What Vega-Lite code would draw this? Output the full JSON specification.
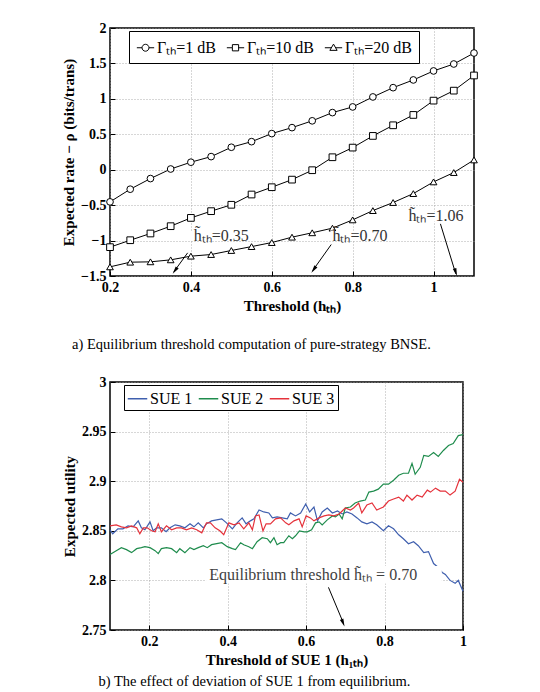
{
 "$schema": "https://vega.github.io/schema/vega-lite/v6.json",
 "padding": {"left": 60, "top": 20, "right": 5, "bottom": 0},
 "background": "white",
 "columns": 1,
 "align": "none",
 "spacing": 21,
 "config": {
  "font": "Liberation Serif",
  "view": {"stroke": "black", "strokeWidth": 1.5},
  "axis": {
   "grid": true, "gridDash": [1, 2], "gridColor": "#9a9a9a", "gridWidth": 0.8,
   "domain": false, "ticks": true, "tickSize": -5, "tickColor": "black", "labelPadding": 9,
   "labelFont": "Liberation Serif", "labelFontSize": 14, "labelFontWeight": "bold", "labelColor": "black",
   "titleFont": "Liberation Serif", "titleFontSize": 15, "titleFontWeight": "bold", "titleColor": "black",
   "labelFlush": false, "labelOverlap": false
  },
  "axisY": {"labelOverlap": false},
  "legend": {
   "orient": "none", "direction": "horizontal", "strokeColor": "black", "fillColor": "white",
   "labelFont": "Liberation Serif", "labelFontSize": 16, "labelColor": "black", "padding": 5, "cornerRadius": 0
  }
 },
 "datasets": {
  "top": [
   {"h":0.2,"v":-0.454,"s":"Γₜₕ=1 dB"},{"h":0.25,"v":-0.275,"s":"Γₜₕ=1 dB"},{"h":0.3,"v":-0.125,"s":"Γₜₕ=1 dB"},{"h":0.35,"v":0.01,"s":"Γₜₕ=1 dB"},{"h":0.4,"v":0.106,"s":"Γₜₕ=1 dB"},{"h":0.45,"v":0.185,"s":"Γₜₕ=1 dB"},{"h":0.5,"v":0.317,"s":"Γₜₕ=1 dB"},{"h":0.55,"v":0.396,"s":"Γₜₕ=1 dB"},{"h":0.6,"v":0.51,"s":"Γₜₕ=1 dB"},{"h":0.65,"v":0.594,"s":"Γₜₕ=1 dB"},{"h":0.7,"v":0.69,"s":"Γₜₕ=1 dB"},{"h":0.75,"v":0.806,"s":"Γₜₕ=1 dB"},{"h":0.8,"v":0.886,"s":"Γₜₕ=1 dB"},{"h":0.85,"v":1.027,"s":"Γₜₕ=1 dB"},{"h":0.9,"v":1.158,"s":"Γₜₕ=1 dB"},{"h":0.95,"v":1.267,"s":"Γₜₕ=1 dB"},{"h":1.0,"v":1.394,"s":"Γₜₕ=1 dB"},{"h":1.05,"v":1.492,"s":"Γₜₕ=1 dB"},{"h":1.1,"v":1.647,"s":"Γₜₕ=1 dB"},
   {"h":0.2,"v":-1.093,"s":"Γₜₕ=10 dB"},{"h":0.25,"v":-0.995,"s":"Γₜₕ=10 dB"},{"h":0.3,"v":-0.9,"s":"Γₜₕ=10 dB"},{"h":0.35,"v":-0.797,"s":"Γₜₕ=10 dB"},{"h":0.4,"v":-0.68,"s":"Γₜₕ=10 dB"},{"h":0.45,"v":-0.585,"s":"Γₜₕ=10 dB"},{"h":0.5,"v":-0.495,"s":"Γₜₕ=10 dB"},{"h":0.55,"v":-0.35,"s":"Γₜₕ=10 dB"},{"h":0.6,"v":-0.247,"s":"Γₜₕ=10 dB"},{"h":0.65,"v":-0.14,"s":"Γₜₕ=10 dB"},{"h":0.7,"v":-0.007,"s":"Γₜₕ=10 dB"},{"h":0.75,"v":0.176,"s":"Γₜₕ=10 dB"},{"h":0.8,"v":0.312,"s":"Γₜₕ=10 dB"},{"h":0.85,"v":0.477,"s":"Γₜₕ=10 dB"},{"h":0.9,"v":0.627,"s":"Γₜₕ=10 dB"},{"h":0.95,"v":0.773,"s":"Γₜₕ=10 dB"},{"h":1.0,"v":0.975,"s":"Γₜₕ=10 dB"},{"h":1.05,"v":1.116,"s":"Γₜₕ=10 dB"},{"h":1.1,"v":1.33,"s":"Γₜₕ=10 dB"},
   {"h":0.2,"v":-1.371,"s":"Γₜₕ=20 dB"},{"h":0.25,"v":-1.305,"s":"Γₜₕ=20 dB"},{"h":0.3,"v":-1.3,"s":"Γₜₕ=20 dB"},{"h":0.35,"v":-1.272,"s":"Γₜₕ=20 dB"},{"h":0.4,"v":-1.22,"s":"Γₜₕ=20 dB"},{"h":0.45,"v":-1.197,"s":"Γₜₕ=20 dB"},{"h":0.5,"v":-1.14,"s":"Γₜₕ=20 dB"},{"h":0.55,"v":-1.085,"s":"Γₜₕ=20 dB"},{"h":0.6,"v":-1.028,"s":"Γₜₕ=20 dB"},{"h":0.65,"v":-0.952,"s":"Γₜₕ=20 dB"},{"h":0.7,"v":-0.89,"s":"Γₜₕ=20 dB"},{"h":0.75,"v":-0.825,"s":"Γₜₕ=20 dB"},{"h":0.8,"v":-0.708,"s":"Γₜₕ=20 dB"},{"h":0.85,"v":-0.577,"s":"Γₜₕ=20 dB"},{"h":0.9,"v":-0.463,"s":"Γₜₕ=20 dB"},{"h":0.95,"v":-0.337,"s":"Γₜₕ=20 dB"},{"h":1.0,"v":-0.172,"s":"Γₜₕ=20 dB"},{"h":1.05,"v":-0.04,"s":"Γₜₕ=20 dB"},{"h":1.1,"v":0.138,"s":"Γₜₕ=20 dB"}
  ],
  "bottom": [
   {"h":0.100,"u":2.851,"s":"SUE 1"},{"h":0.107,"u":2.847,"s":"SUE 1"},{"h":0.120,"u":2.852,"s":"SUE 1"},{"h":0.133,"u":2.852,"s":"SUE 1"},{"h":0.146,"u":2.855,"s":"SUE 1"},{"h":0.159,"u":2.854,"s":"SUE 1"},{"h":0.172,"u":2.860,"s":"SUE 1"},{"h":0.180,"u":2.853,"s":"SUE 1"},{"h":0.189,"u":2.851,"s":"SUE 1"},{"h":0.202,"u":2.859,"s":"SUE 1"},{"h":0.210,"u":2.850,"s":"SUE 1"},{"h":0.219,"u":2.853,"s":"SUE 1"},{"h":0.231,"u":2.853,"s":"SUE 1"},{"h":0.243,"u":2.849,"s":"SUE 1"},{"h":0.253,"u":2.853,"s":"SUE 1"},{"h":0.266,"u":2.856,"s":"SUE 1"},{"h":0.278,"u":2.855,"s":"SUE 1"},{"h":0.291,"u":2.853,"s":"SUE 1"},{"h":0.304,"u":2.857,"s":"SUE 1"},{"h":0.314,"u":2.854,"s":"SUE 1"},{"h":0.325,"u":2.858,"s":"SUE 1"},{"h":0.338,"u":2.853,"s":"SUE 1"},{"h":0.346,"u":2.857,"s":"SUE 1"},{"h":0.359,"u":2.860,"s":"SUE 1"},{"h":0.372,"u":2.861,"s":"SUE 1"},{"h":0.385,"u":2.862,"s":"SUE 1"},{"h":0.397,"u":2.858,"s":"SUE 1"},{"h":0.412,"u":2.852,"s":"SUE 1"},{"h":0.424,"u":2.858,"s":"SUE 1"},{"h":0.437,"u":2.863,"s":"SUE 1"},{"h":0.447,"u":2.857,"s":"SUE 1"},{"h":0.458,"u":2.860,"s":"SUE 1"},{"h":0.467,"u":2.862,"s":"SUE 1"},{"h":0.480,"u":2.871,"s":"SUE 1"},{"h":0.492,"u":2.869,"s":"SUE 1"},{"h":0.505,"u":2.868,"s":"SUE 1"},{"h":0.514,"u":2.863,"s":"SUE 1"},{"h":0.526,"u":2.864,"s":"SUE 1"},{"h":0.539,"u":2.863,"s":"SUE 1"},{"h":0.552,"u":2.862,"s":"SUE 1"},{"h":0.560,"u":2.868,"s":"SUE 1"},{"h":0.573,"u":2.865,"s":"SUE 1"},{"h":0.586,"u":2.868,"s":"SUE 1"},{"h":0.599,"u":2.877,"s":"SUE 1"},{"h":0.609,"u":2.869,"s":"SUE 1"},{"h":0.620,"u":2.874,"s":"SUE 1"},{"h":0.629,"u":2.860,"s":"SUE 1"},{"h":0.641,"u":2.869,"s":"SUE 1"},{"h":0.654,"u":2.873,"s":"SUE 1"},{"h":0.667,"u":2.868,"s":"SUE 1"},{"h":0.680,"u":2.870,"s":"SUE 1"},{"h":0.692,"u":2.867,"s":"SUE 1"},{"h":0.704,"u":2.869,"s":"SUE 1"},{"h":0.717,"u":2.867,"s":"SUE 1"},{"h":0.730,"u":2.863,"s":"SUE 1"},{"h":0.742,"u":2.859,"s":"SUE 1"},{"h":0.755,"u":2.857,"s":"SUE 1"},{"h":0.768,"u":2.859,"s":"SUE 1"},{"h":0.780,"u":2.856,"s":"SUE 1"},{"h":0.797,"u":2.850,"s":"SUE 1"},{"h":0.810,"u":2.855,"s":"SUE 1"},{"h":0.823,"u":2.852,"s":"SUE 1"},{"h":0.836,"u":2.846,"s":"SUE 1"},{"h":0.848,"u":2.842,"s":"SUE 1"},{"h":0.861,"u":2.837,"s":"SUE 1"},{"h":0.874,"u":2.839,"s":"SUE 1"},{"h":0.886,"u":2.835,"s":"SUE 1"},{"h":0.900,"u":2.828,"s":"SUE 1"},{"h":0.912,"u":2.829,"s":"SUE 1"},{"h":0.925,"u":2.817,"s":"SUE 1"},{"h":0.937,"u":2.813,"s":"SUE 1"},{"h":0.947,"u":2.808,"s":"SUE 1"},{"h":0.955,"u":2.806,"s":"SUE 1"},{"h":0.967,"u":2.800,"s":"SUE 1"},{"h":0.980,"u":2.797,"s":"SUE 1"},{"h":0.988,"u":2.800,"s":"SUE 1"},{"h":1.000,"u":2.789,"s":"SUE 1"},
   {"h":0.100,"u":2.826,"s":"SUE 2"},{"h":0.116,"u":2.830,"s":"SUE 2"},{"h":0.129,"u":2.833,"s":"SUE 2"},{"h":0.142,"u":2.831,"s":"SUE 2"},{"h":0.155,"u":2.828,"s":"SUE 2"},{"h":0.168,"u":2.832,"s":"SUE 2"},{"h":0.180,"u":2.833,"s":"SUE 2"},{"h":0.189,"u":2.834,"s":"SUE 2"},{"h":0.202,"u":2.833,"s":"SUE 2"},{"h":0.215,"u":2.830,"s":"SUE 2"},{"h":0.223,"u":2.827,"s":"SUE 2"},{"h":0.231,"u":2.832,"s":"SUE 2"},{"h":0.244,"u":2.833,"s":"SUE 2"},{"h":0.257,"u":2.832,"s":"SUE 2"},{"h":0.270,"u":2.828,"s":"SUE 2"},{"h":0.278,"u":2.832,"s":"SUE 2"},{"h":0.291,"u":2.828,"s":"SUE 2"},{"h":0.304,"u":2.833,"s":"SUE 2"},{"h":0.314,"u":2.831,"s":"SUE 2"},{"h":0.325,"u":2.833,"s":"SUE 2"},{"h":0.338,"u":2.835,"s":"SUE 2"},{"h":0.348,"u":2.833,"s":"SUE 2"},{"h":0.359,"u":2.836,"s":"SUE 2"},{"h":0.372,"u":2.837,"s":"SUE 2"},{"h":0.385,"u":2.838,"s":"SUE 2"},{"h":0.399,"u":2.834,"s":"SUE 2"},{"h":0.412,"u":2.832,"s":"SUE 2"},{"h":0.420,"u":2.831,"s":"SUE 2"},{"h":0.433,"u":2.838,"s":"SUE 2"},{"h":0.441,"u":2.836,"s":"SUE 2"},{"h":0.454,"u":2.834,"s":"SUE 2"},{"h":0.463,"u":2.832,"s":"SUE 2"},{"h":0.475,"u":2.839,"s":"SUE 2"},{"h":0.488,"u":2.843,"s":"SUE 2"},{"h":0.501,"u":2.842,"s":"SUE 2"},{"h":0.509,"u":2.838,"s":"SUE 2"},{"h":0.518,"u":2.843,"s":"SUE 2"},{"h":0.526,"u":2.836,"s":"SUE 2"},{"h":0.535,"u":2.838,"s":"SUE 2"},{"h":0.543,"u":2.838,"s":"SUE 2"},{"h":0.556,"u":2.845,"s":"SUE 2"},{"h":0.565,"u":2.842,"s":"SUE 2"},{"h":0.573,"u":2.845,"s":"SUE 2"},{"h":0.583,"u":2.850,"s":"SUE 2"},{"h":0.595,"u":2.849,"s":"SUE 2"},{"h":0.603,"u":2.849,"s":"SUE 2"},{"h":0.614,"u":2.851,"s":"SUE 2"},{"h":0.624,"u":2.858,"s":"SUE 2"},{"h":0.633,"u":2.859,"s":"SUE 2"},{"h":0.641,"u":2.856,"s":"SUE 2"},{"h":0.654,"u":2.861,"s":"SUE 2"},{"h":0.667,"u":2.865,"s":"SUE 2"},{"h":0.675,"u":2.864,"s":"SUE 2"},{"h":0.684,"u":2.867,"s":"SUE 2"},{"h":0.692,"u":2.862,"s":"SUE 2"},{"h":0.700,"u":2.873,"s":"SUE 2"},{"h":0.713,"u":2.874,"s":"SUE 2"},{"h":0.725,"u":2.878,"s":"SUE 2"},{"h":0.738,"u":2.880,"s":"SUE 2"},{"h":0.751,"u":2.881,"s":"SUE 2"},{"h":0.760,"u":2.889,"s":"SUE 2"},{"h":0.772,"u":2.890,"s":"SUE 2"},{"h":0.784,"u":2.892,"s":"SUE 2"},{"h":0.797,"u":2.897,"s":"SUE 2"},{"h":0.810,"u":2.897,"s":"SUE 2"},{"h":0.823,"u":2.901,"s":"SUE 2"},{"h":0.836,"u":2.906,"s":"SUE 2"},{"h":0.848,"u":2.908,"s":"SUE 2"},{"h":0.861,"u":2.908,"s":"SUE 2"},{"h":0.870,"u":2.918,"s":"SUE 2"},{"h":0.878,"u":2.907,"s":"SUE 2"},{"h":0.891,"u":2.914,"s":"SUE 2"},{"h":0.900,"u":2.926,"s":"SUE 2"},{"h":0.912,"u":2.925,"s":"SUE 2"},{"h":0.925,"u":2.929,"s":"SUE 2"},{"h":0.937,"u":2.925,"s":"SUE 2"},{"h":0.950,"u":2.931,"s":"SUE 2"},{"h":0.963,"u":2.936,"s":"SUE 2"},{"h":0.975,"u":2.938,"s":"SUE 2"},{"h":0.988,"u":2.946,"s":"SUE 2"},{"h":1.000,"u":2.947,"s":"SUE 2"},
   {"h":0.100,"u":2.855,"s":"SUE 3"},{"h":0.116,"u":2.856,"s":"SUE 3"},{"h":0.129,"u":2.854,"s":"SUE 3"},{"h":0.142,"u":2.853,"s":"SUE 3"},{"h":0.155,"u":2.855,"s":"SUE 3"},{"h":0.168,"u":2.853,"s":"SUE 3"},{"h":0.176,"u":2.847,"s":"SUE 3"},{"h":0.185,"u":2.853,"s":"SUE 3"},{"h":0.195,"u":2.853,"s":"SUE 3"},{"h":0.206,"u":2.850,"s":"SUE 3"},{"h":0.215,"u":2.849,"s":"SUE 3"},{"h":0.223,"u":2.857,"s":"SUE 3"},{"h":0.231,"u":2.849,"s":"SUE 3"},{"h":0.244,"u":2.855,"s":"SUE 3"},{"h":0.257,"u":2.851,"s":"SUE 3"},{"h":0.270,"u":2.853,"s":"SUE 3"},{"h":0.282,"u":2.853,"s":"SUE 3"},{"h":0.295,"u":2.851,"s":"SUE 3"},{"h":0.308,"u":2.853,"s":"SUE 3"},{"h":0.321,"u":2.851,"s":"SUE 3"},{"h":0.334,"u":2.848,"s":"SUE 3"},{"h":0.346,"u":2.858,"s":"SUE 3"},{"h":0.356,"u":2.858,"s":"SUE 3"},{"h":0.368,"u":2.853,"s":"SUE 3"},{"h":0.380,"u":2.850,"s":"SUE 3"},{"h":0.390,"u":2.846,"s":"SUE 3"},{"h":0.403,"u":2.858,"s":"SUE 3"},{"h":0.416,"u":2.856,"s":"SUE 3"},{"h":0.429,"u":2.858,"s":"SUE 3"},{"h":0.441,"u":2.852,"s":"SUE 3"},{"h":0.454,"u":2.858,"s":"SUE 3"},{"h":0.463,"u":2.851,"s":"SUE 3"},{"h":0.471,"u":2.865,"s":"SUE 3"},{"h":0.480,"u":2.866,"s":"SUE 3"},{"h":0.490,"u":2.850,"s":"SUE 3"},{"h":0.498,"u":2.857,"s":"SUE 3"},{"h":0.509,"u":2.857,"s":"SUE 3"},{"h":0.522,"u":2.862,"s":"SUE 3"},{"h":0.535,"u":2.863,"s":"SUE 3"},{"h":0.548,"u":2.858,"s":"SUE 3"},{"h":0.556,"u":2.856,"s":"SUE 3"},{"h":0.569,"u":2.860,"s":"SUE 3"},{"h":0.582,"u":2.862,"s":"SUE 3"},{"h":0.590,"u":2.854,"s":"SUE 3"},{"h":0.600,"u":2.865,"s":"SUE 3"},{"h":0.611,"u":2.863,"s":"SUE 3"},{"h":0.620,"u":2.860,"s":"SUE 3"},{"h":0.633,"u":2.863,"s":"SUE 3"},{"h":0.646,"u":2.865,"s":"SUE 3"},{"h":0.658,"u":2.866,"s":"SUE 3"},{"h":0.671,"u":2.865,"s":"SUE 3"},{"h":0.684,"u":2.867,"s":"SUE 3"},{"h":0.692,"u":2.870,"s":"SUE 3"},{"h":0.700,"u":2.873,"s":"SUE 3"},{"h":0.713,"u":2.871,"s":"SUE 3"},{"h":0.721,"u":2.873,"s":"SUE 3"},{"h":0.734,"u":2.878,"s":"SUE 3"},{"h":0.742,"u":2.868,"s":"SUE 3"},{"h":0.755,"u":2.876,"s":"SUE 3"},{"h":0.768,"u":2.878,"s":"SUE 3"},{"h":0.780,"u":2.871,"s":"SUE 3"},{"h":0.797,"u":2.874,"s":"SUE 3"},{"h":0.810,"u":2.880,"s":"SUE 3"},{"h":0.823,"u":2.882,"s":"SUE 3"},{"h":0.836,"u":2.884,"s":"SUE 3"},{"h":0.848,"u":2.880,"s":"SUE 3"},{"h":0.857,"u":2.886,"s":"SUE 3"},{"h":0.870,"u":2.881,"s":"SUE 3"},{"h":0.883,"u":2.886,"s":"SUE 3"},{"h":0.896,"u":2.884,"s":"SUE 3"},{"h":0.909,"u":2.891,"s":"SUE 3"},{"h":0.917,"u":2.889,"s":"SUE 3"},{"h":0.930,"u":2.893,"s":"SUE 3"},{"h":0.942,"u":2.890,"s":"SUE 3"},{"h":0.955,"u":2.890,"s":"SUE 3"},{"h":0.967,"u":2.886,"s":"SUE 3"},{"h":0.980,"u":2.890,"s":"SUE 3"},{"h":0.991,"u":2.902,"s":"SUE 3"},{"h":1.000,"u":2.899,"s":"SUE 3"}
  ]
 },
 "concat": [
  {
   "width": 364, "height": 248,
   "title": {"text": "a) Equilibrium threshold computation of pure-strategy BNSE.", "orient": "bottom", "anchor": "middle", "frame": "bounds", "font": "Liberation Serif", "fontSize": 14.5, "fontWeight": "normal", "color": "black", "offset": 25, "dx": -19},
   "resolve": {"scale": {"shape": "independent"}},
   "layer": [
    {
     "data": {"name": "top"},
     "mark": {"type": "line", "color": "black", "strokeWidth": 1},
     "encoding": {
      "x": {"field": "h", "type": "quantitative", "scale": {"domain": [0.2, 1.1], "nice": false}, "axis": {"title": "Threshold (hₜₕ)", "values": [0.2, 0.4, 0.6, 0.8, 1], "format": "~g", "labelOverlap": false}},
      "y": {"field": "v", "type": "quantitative", "scale": {"domain": [-1.5, 2], "nice": false}, "axis": {"title": "Expected rate − ρ (bits/trans)", "tickCount": 8, "format": "~g", "labelOverlap": false}},
      "detail": {"field": "s"}
     }
    },
    {
     "data": {"name": "top"},
     "mark": {"type": "point", "filled": true, "fill": "white", "stroke": "black", "strokeWidth": 1, "size": 45, "opacity": 1},
     "encoding": {
      "x": {"field": "h", "type": "quantitative"},
      "y": {"field": "v", "type": "quantitative"},
      "shape": {"field": "s", "type": "nominal", "scale": {"domain": ["Γₜₕ=1 dB", "Γₜₕ=10 dB", "Γₜₕ=20 dB"], "range": ["circle", "square", "triangle-up"]}, "legend": null}
     }
    },
    {
     "data": {"name": "top"},
     "transform": [{"filter": "datum.h > 5"}],
     "mark": {"type": "point", "filled": false, "color": "black", "strokeWidth": 1, "opacity": 1},
     "encoding": {
      "x": {"field": "h", "type": "quantitative"},
      "y": {"field": "v", "type": "quantitative"},
      "shape": {"field": "s", "type": "nominal",
       "scale": {"domain": ["Γₜₕ=1 dB", "Γₜₕ=10 dB", "Γₜₕ=20 dB"], "range": [
        "M-1,0L-0.4,0M0.4,0A0.4,0.4,0,1,1,-0.4,0A0.4,0.4,0,1,1,0.4,0L1,0",
        "M-1,0L-0.36,0L-0.36,-0.36L0.36,-0.36L0.36,0.36L-0.36,0.36L-0.36,0M0.36,0L1,0",
        "M-1,0L-0.24,0M0,-0.42L0.42,0.3L-0.42,0.3L0,-0.42M0.24,0L1,0"]},
       "legend": {"title": null, "legendX": 19, "legendY": 3, "symbolSize": 300, "symbolStrokeColor": "black", "symbolStrokeWidth": 1, "symbolOpacity": 1, "labelOffset": 2, "columnPadding": 8, "padding": 7,
        "encode": {"symbols": {"update": {"stroke": {"value": "black"}, "strokeWidth": {"value": 1}, "fill": {"value": "white"}}}}}
      }
     }
    },
    {
     "data": {"values": [
      {"h": 0.4, "h2": 0.565, "v": -1.0, "v2": -0.865},
      {"h": 0.745, "h2": 0.905, "v": -1.0, "v2": -0.865},
      {"h": 0.932, "h2": 1.095, "v": -0.73, "v2": -0.595}
     ]},
     "mark": {"type": "rect", "fill": "white"},
     "encoding": {
      "x": {"field": "h", "type": "quantitative"}, "x2": {"field": "h2"},
      "y": {"field": "v", "type": "quantitative"}, "y2": {"field": "v2"}
     }
    },
    {
     "data": {"values": [
      {"h": 0.407, "v": -0.93, "t": "h̃ₜₕ=0.35"},
      {"h": 0.75, "v": -0.93, "t": "h̃ₜₕ=0.70"},
      {"h": 0.938, "v": -0.66, "t": "h̃ₜₕ=1.06"}
     ]},
     "mark": {"type": "text", "align": "left", "baseline": "middle", "font": "Liberation Serif", "fontSize": 16, "color": "#333333"},
     "encoding": {
      "x": {"field": "h", "type": "quantitative"},
      "y": {"field": "v", "type": "quantitative"},
      "text": {"field": "t"}
     }
    },
    {
     "data": {"values": [
      {"h": 0.392, "v": -1.173, "h2": 0.358, "v2": -1.44},
      {"h": 0.747, "v": -1.056, "h2": 0.701, "v2": -1.425},
      {"h": 1.017, "v": -0.764, "h2": 1.055, "v2": -1.47}
     ]},
     "mark": {"type": "rule", "color": "black", "strokeWidth": 1},
     "encoding": {
      "x": {"field": "h", "type": "quantitative"}, "x2": {"field": "h2"},
      "y": {"field": "v", "type": "quantitative"}, "y2": {"field": "v2"}
     }
    },
    {
     "data": {"values": [{"h": 0.355, "v": -1.47}, {"h": 0.698, "v": -1.455}]},
     "mark": {"type": "point", "shape": "M0,0L-0.35,1.5L0.35,1.5Z", "filled": true, "color": "black", "size": 110, "angle": 215, "opacity": 1},
     "encoding": {"x": {"field": "h", "type": "quantitative"}, "y": {"field": "v", "type": "quantitative"}}
    },
    {
     "data": {"values": [{"h": 1.058, "v": -1.5}]},
     "mark": {"type": "point", "shape": "M0,0L-0.35,1.5L0.35,1.5Z", "filled": true, "color": "black", "size": 110, "angle": 162, "opacity": 1},
     "encoding": {"x": {"field": "h", "type": "quantitative"}, "y": {"field": "v", "type": "quantitative"}}
    }
   ]
  },
  {
   "width": 353, "height": 248,
   "title": {"text": "b) The effect of deviation of SUE 1 from equilibrium.", "orient": "bottom", "anchor": "middle", "frame": "bounds", "font": "Liberation Serif", "fontSize": 14.5, "fontWeight": "normal", "color": "black", "offset": 8, "dx": -10},
   "layer": [
    {
     "data": {"name": "bottom"},
     "mark": {"type": "line", "strokeWidth": 1.2},
     "encoding": {
      "x": {"field": "h", "type": "quantitative", "scale": {"domain": [0.1, 1], "nice": false}, "axis": {"title": "Threshold of SUE 1 (h₁ₜₕ)", "values": [0.2, 0.4, 0.6, 0.8, 1], "format": "~g", "labelOverlap": false}},
      "y": {"field": "u", "type": "quantitative", "scale": {"domain": [2.75, 3], "nice": false, "zero": false}, "axis": {"title": "Expected utility", "values": [2.75, 2.8, 2.85, 2.9, 2.95, 3], "format": "~g", "labelOverlap": false}},
      "color": {"field": "s", "type": "nominal", "scale": {"domain": ["SUE 1", "SUE 2", "SUE 3"], "range": ["#3f5fae", "#1f8c4d", "#e5323b"]},
       "legend": {"title": null, "legendX": 14, "legendY": 357, "symbolType": "stroke", "symbolSize": 380, "symbolStrokeWidth": 1.5, "labelOffset": 2, "columnPadding": 2, "padding": 3}}
     }
    },
    {
     "data": {"values": [{"h": 0.345, "h2": 0.946, "u": 2.797, "u2": 2.8145}]},
     "mark": {"type": "rect", "fill": "white"},
     "encoding": {
      "x": {"field": "h", "type": "quantitative"}, "x2": {"field": "h2"},
      "y": {"field": "u", "type": "quantitative"}, "y2": {"field": "u2"}
     }
    },
    {
     "data": {"values": [{"h": 0.353, "u": 2.805, "t": "Equilibrium threshold h̃ₜₕ = 0.70"}]},
     "mark": {"type": "text", "align": "left", "baseline": "middle", "font": "Liberation Serif", "fontSize": 16, "color": "#404040"},
     "encoding": {
      "x": {"field": "h", "type": "quantitative"},
      "y": {"field": "u", "type": "quantitative"},
      "text": {"field": "t"}
     }
    },
    {
     "data": {"values": [{"h": 0.657, "u": 2.793, "h2": 0.694, "u2": 2.758}]},
     "mark": {"type": "rule", "color": "black", "strokeWidth": 1},
     "encoding": {
      "x": {"field": "h", "type": "quantitative"}, "x2": {"field": "h2"},
      "y": {"field": "u", "type": "quantitative"}, "y2": {"field": "u2"}
     }
    },
    {
     "data": {"values": [{"h": 0.698, "u": 2.7535}]},
     "mark": {"type": "point", "shape": "M0,0L-0.35,1.5L0.35,1.5Z", "filled": true, "color": "black", "size": 110, "angle": 158, "opacity": 1},
     "encoding": {"x": {"field": "h", "type": "quantitative"}, "y": {"field": "u", "type": "quantitative"}}
    }
   ]
  }
 ]
}
